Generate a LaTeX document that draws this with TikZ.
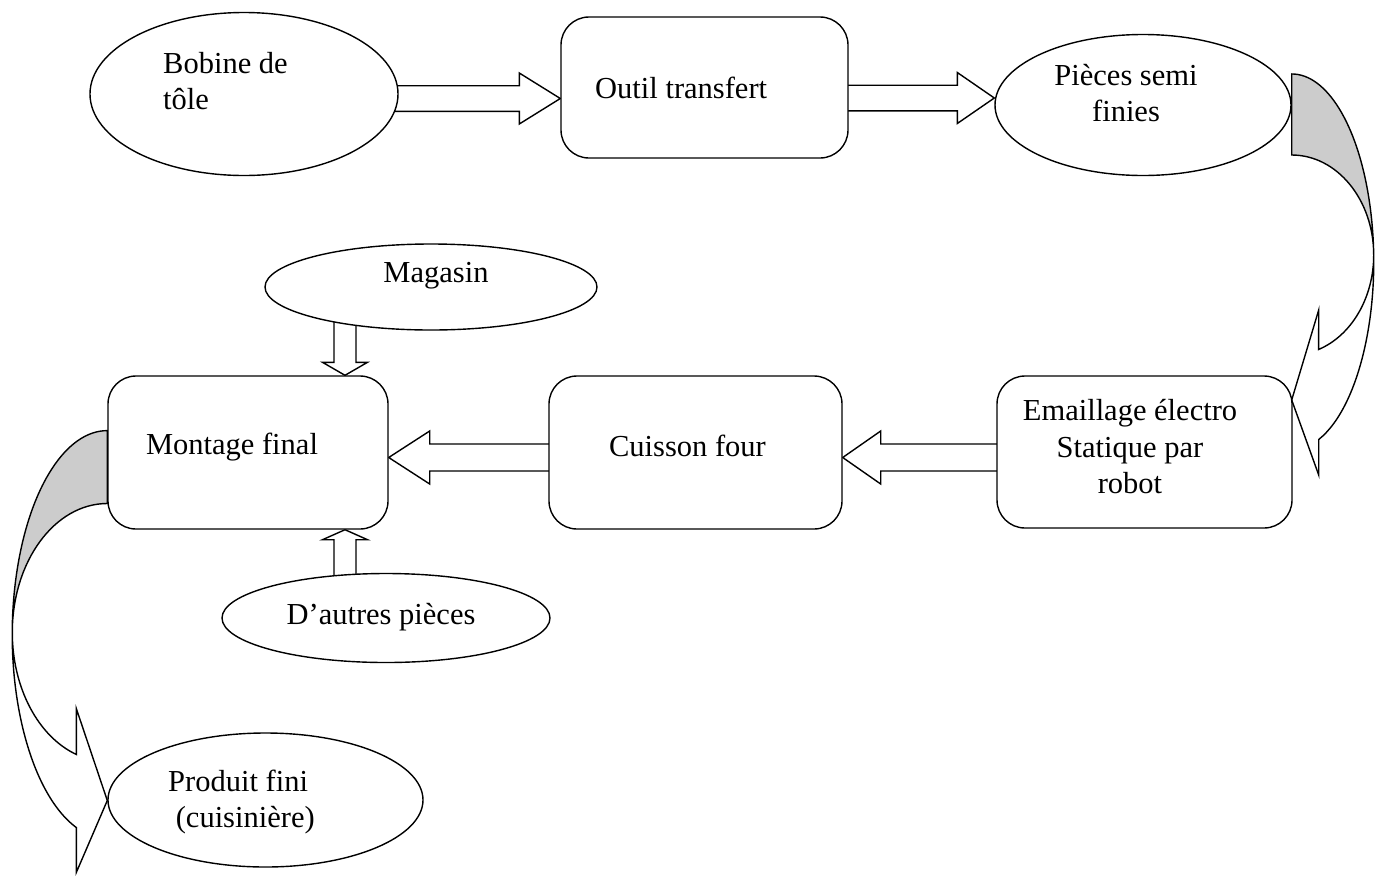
\documentclass[tikz,border=0pt]{standalone}
\usepackage{fontspec}
\setmainfont{Liberation Serif}
\usetikzlibrary{shapes.geometric,calc,backgrounds}

% straight block arrow: tail, tip, shaft half-width, head half-width, head length
\newcommand\blockarrow[5]{%
  \coordinate (ba-tail) at #1;
  \coordinate (ba-tip) at #2;
  \coordinate (ba-base) at ($(ba-tip)!#5!(ba-tail)$);
  \draw[blockarrow]
    ($(ba-tail)!#3!90:(ba-tip)$) -- ($(ba-base)!#3!90:(ba-tip)$)
    -- ($(ba-base)!#4!90:(ba-tip)$) -- (ba-tip)
    -- ($(ba-base)!#4!-90:(ba-tip)$) -- ($(ba-base)!#3!-90:(ba-tip)$)
    -- ($(ba-tail)!#3!-90:(ba-tip)$) -- cycle;
}

\tikzset{
  ln/.style={line width=1.4pt},
  oval/.style={ellipse, draw, ln, fill=white, inner sep=0pt},
  roundbox/.style={rectangle, rounded corners=28pt, draw, ln, fill=white, inner sep=0pt},
  lbl/.style={inner sep=0pt, font=\fontsize{30.5}{36.5}\selectfont},
  blockarrow/.style={draw, ln, fill=white, line join=miter},
  bandshade/.style={fill=black!20},
}

\begin{document}
\begin{tikzpicture}[x=1pt, y=-1pt]
\useasboundingbox (0,0) rectangle (1376,876);

% process steps
\node[oval, minimum width=308pt, minimum height=163pt] (bobine) at (244,94) {};
\node[roundbox, minimum width=287pt, minimum height=141pt] (outil) at (704.5,87.5) {};
\node[oval, minimum width=296pt, minimum height=141pt] (pieces) at (1143,105) {};
\node[oval, minimum width=332pt, minimum height=86pt] (magasin) at (431,287) {};
\node[roundbox, minimum width=280pt, minimum height=153pt] (montage) at (248,452.5) {};
\node[roundbox, minimum width=293pt, minimum height=153pt] (cuisson) at (695.5,452.5) {};
\node[roundbox, minimum width=295pt, minimum height=152pt] (emaillage) at (1144.5,452) {};
\node[oval, minimum width=328pt, minimum height=89pt] (autres) at (386,618) {};
\node[oval, minimum width=315pt, minimum height=134pt] (produit) at (265.5,800) {};

% labels
\node[lbl, align=left, anchor=west] (bobinetxt) at (163,81) {Bobine de\\tôle};
\node[lbl, anchor=west] (outiltxt) at (595,88) {Outil transfert};
\node[lbl, align=center] (piecestxt) at (1126,93) {Pièces semi\\finies};
\node[lbl] (magasintxt) at (436,276) {Magasin};
\node[lbl] (montagetxt) at (232,447) {Montage final};
\node[lbl] (cuissontxt) at (687.5,446) {Cuisson four};
\node[lbl, align=center] (emailltxt) at (1130,447) {Emaillage électro\\Statique par\\robot};
\node[lbl] (autrestxt) at (381,617) {D’autres pièces};
\node[lbl, align=left, anchor=west] (produittxt) at (168,802) {Produit fini\\\hspace*{7.6pt}(cuisinière)};

% straight block arrows, tails tucked under the source shapes
\begin{pgfonlayer}{background}
  \coordinate (t1) at ($(outil.west)+(0,11)$);
  \blockarrow{(bobine.center |- t1)}{(t1)}{12.8pt}{25.5pt}{41pt}
  \coordinate (t2) at ($(pieces.west)+(0,-7)$);
  \blockarrow{(outil.center |- t2)}{(t2)}{12.8pt}{25.5pt}{37pt}
  \coordinate (t3) at ($(cuisson.east)+(0,5)$);
  \blockarrow{(emaillage.center |- t3)}{(t3)}{13.5pt}{26.5pt}{38pt}
  \coordinate (t4) at ($(montage.east)+(0,5)$);
  \blockarrow{(cuisson.center |- t4)}{(t4)}{13.5pt}{26.5pt}{41pt}
  \coordinate (t5) at ($(montage.north)+(97,0)$);
  \blockarrow{(t5 |- magasin.center)}{(t5)}{11pt}{22.5pt}{13pt}
  \coordinate (t6) at ($(montage.south)+(97,0)$);
  \blockarrow{(t6 |- autres.center)}{(t6)}{11pt}{22.5pt}{10pt}
\end{pgfonlayer}

% curved arrow from the semi-finished parts down to enamelling
\begin{scope}[shift={(pieces.east)}]
  \fill[bandshade] (0,-31) arc[start angle=-90, end angle=0, x radius=82, y radius=188]
    -- (82,150) arc[start angle=0, end angle=-90, x radius=82, y radius=100] -- cycle;
  \draw[ln, line join=miter] (0,50) arc[start angle=-90, end angle=70.8, x radius=82, y radius=100]
    -- (27,205) -- (0,295) -- (27,370) -- (27,334.5)
    arc[start angle=70.8, end angle=-90, x radius=82, y radius=188] -- cycle;
\end{scope}

% curved arrow from final assembly down to the finished product
\begin{scope}[shift={(montage.west)}]
  \fill[bandshade] (0,-22) arc[start angle=-90, end angle=-180, x radius=95, y radius=204]
    -- (-95,180) arc[start angle=180, end angle=270, x radius=95, y radius=129] -- cycle;
  \draw[ln, line join=miter] (0,51) arc[start angle=-90, end angle=-251, x radius=95, y radius=129]
    -- (-31,256) -- (0,348) -- (-31,420) -- (-31,375)
    arc[start angle=-251, end angle=-90, x radius=95, y radius=204] -- cycle;
\end{scope}
\end{tikzpicture}
\end{document}
